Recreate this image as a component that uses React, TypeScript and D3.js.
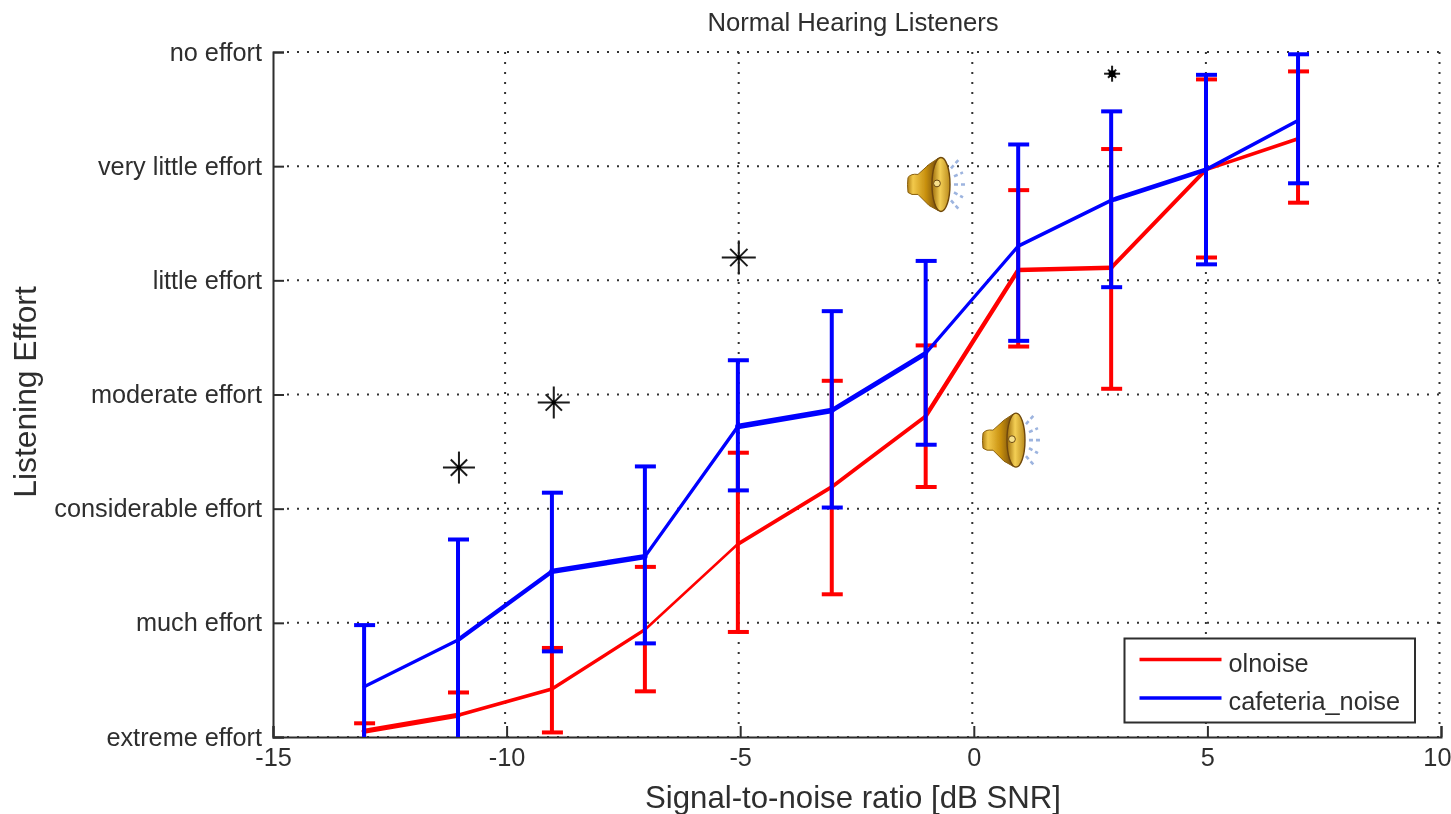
import { useEffect, useRef } from 'react'
import * as d3 from 'd3'

const WIDTH = 1451
const HEIGHT = 814

const EFFORT_LABELS = ['extreme effort', 'much effort', 'considerable effort', 'moderate effort', 'little effort', 'very little effort', 'no effort']
const X_TICKS = [-15, -10, -5, 0, 5, 10]

// SNR as plotted
const SNR = [-13.05, -11.04, -9.03, -7.04, -5.05, -3.04, -1.03, 0.95, 2.94, 4.97, 6.94]

const OL_MEAN = [0.05, 0.19, 0.42, 0.94, 1.69, 2.19, 2.81, 4.09, 4.11, 4.97, 5.24]
const OL_UPPER = [0.12, 0.39, 0.78, 1.49, 2.49, 3.12, 3.43, 4.79, 5.15, 5.76, 5.83]
const OL_LOWER = [-0.2, -0.2, 0.04, 0.4, 0.92, 1.25, 2.19, 3.42, 3.05, 4.2, 4.68]

const CAF_MEAN = [0.44, 0.85, 1.45, 1.58, 2.72, 2.86, 3.36, 4.3, 4.7, 4.97, 5.4]
const CAF_UPPER = [0.98, 1.73, 2.14, 2.37, 3.3, 3.73, 4.17, 5.19, 5.48, 5.8, 5.98]
const CAF_LOWER = [-0.2, -0.2, 0.75, 0.82, 2.16, 2.01, 2.56, 3.47, 3.94, 4.14, 4.85]

// the scaled-up original draws each mean segment at its own weight
const OL_WEIGHT = [5, 3.6, 3.4, 2.6, 3.8, 3.8, 4.4, 4.6, 4, 3.6]
const CAF_WEIGHT = [3.2, 4.2, 5.4, 3.4, 5.4, 4.8, 3.2, 3.6, 4.6, 3.6]

// significance markers: snr, effort, arm length in px
const STARS = [
  { snr: -11.02, effort: 2.36, r: 16 },
  { snr: -8.99, effort: 2.93, r: 16 },
  { snr: -5.03, effort: 4.2, r: 17 },
  { snr: 2.96, effort: 5.81, r: 8 },
]
const SPEAKERS = [
  { snr: -0.895, effort: 4.84 },
  { snr: 0.71, effort: 2.6 },
]

const RED = '#ff0000'
const BLUE = '#0000ff'
const INK = '#2e2e2e'
const FONT = '"Liberation Sans", Arial, sans-serif'

export default function App() {
  const ref = useRef<SVGSVGElement>(null)

  useEffect(() => {
    const root = d3.select(ref.current)
    root.selectAll('*').remove()

    const x = d3.scaleLinear().domain([-15, 10]).range([273, 1441])
    const y = d3.scaleLinear().domain([0, 6]).range([737, 52])

    const defs = root.append('defs')
    const soft = defs.append('filter').attr('id', 'soft')
      .attr('filterUnits', 'userSpaceOnUse').attr('x', 0).attr('y', 0).attr('width', WIDTH).attr('height', HEIGHT)
    soft.append('feGaussianBlur').attr('stdDeviation', 0.5)
    const brass = defs.append('linearGradient').attr('id', 'brass').attr('x1', 0).attr('x2', 1).attr('y1', 0).attr('y2', 0)
    brass.append('stop').attr('offset', '0%').attr('stop-color', '#b07f14')
    brass.append('stop').attr('offset', '18%').attr('stop-color', '#f2c94c')
    brass.append('stop').attr('offset', '60%').attr('stop-color', '#c8900f')
    brass.append('stop').attr('offset', '100%').attr('stop-color', '#6e4708')
    const face = defs.append('linearGradient').attr('id', 'face').attr('x1', 0).attr('x2', 1).attr('y1', 0).attr('y2', 0)
    face.append('stop').attr('offset', '0%').attr('stop-color', '#9c6c0c')
    face.append('stop').attr('offset', '45%').attr('stop-color', '#f4cf55')
    face.append('stop').attr('offset', '100%').attr('stop-color', '#b98a1c')
    const clip = defs.append('clipPath').attr('id', 'plot')
    clip.append('rect').attr('x', 273).attr('y', 50).attr('width', 1168).attr('height', 687)

    const svg = root.append('g').attr('filter', 'url(#soft)')

    // grid
    const grid = svg.append('g').attr('stroke', '#333').attr('stroke-width', 2).attr('stroke-dasharray', '2 8')
    grid.selectAll('.gy').data(d3.range(0, 7)).join('line')
      .attr('x1', 287).attr('x2', 1441)
      .attr('y1', d => y(d)).attr('y2', d => y(d))
    grid.selectAll('.gx').data(X_TICKS.slice(1)).join('line')
      .attr('x1', d => x(d) - 1.5).attr('x2', d => x(d) - 1.5)
      .attr('y1', 52).attr('y2', 725)

    // axes
    const axisLeft = svg.append('g').attr('transform', 'translate(273,0)')
      .call(d3.axisLeft(y).tickValues(d3.range(0, 7)).tickSize(-11).tickPadding(11).tickFormat(d => EFFORT_LABELS[+d]))
    const axisBottom = svg.append('g').attr('transform', 'translate(0,737)')
      .call(d3.axisBottom(x).tickValues(X_TICKS).tickSize(-11).tickPadding(11).tickFormat(d => String(d)))
    for (const a of [axisLeft, axisBottom]) {
      a.selectAll('path,line').attr('stroke', INK).attr('stroke-width', 2)
      a.selectAll('text').attr('fill', INK).attr('font-family', FONT).attr('font-size', 25.3)
    }
    // keep the last tick label inside the picture
    axisBottom.selectAll<SVGTextElement, number>('text').filter(d => d === 10)
      .attr('text-anchor', 'end').attr('x', 10)

    // series
    const line = d3.line<[number, number]>().x(d => x(d[0])).y(d => y(d[1]))
    const plot = svg.append('g').attr('clip-path', 'url(#plot)').attr('fill', 'none')
    const series = [
      { color: RED, mean: OL_MEAN, upper: OL_UPPER, lower: OL_LOWER, weight: OL_WEIGHT },
      { color: BLUE, mean: CAF_MEAN, upper: CAF_UPPER, lower: CAF_LOWER, weight: CAF_WEIGHT },
    ]
    series.forEach(s => {
      const g = plot.append('g').attr('stroke', s.color).attr('stroke-width', 4)
      const points = SNR.map((d, i) => [d, s.mean[i]] as [number, number])
      g.append('g').selectAll('path').data(d3.pairs(points)).join('path')
        .attr('d', d => line(d))
        .attr('stroke-width', (_, i) => s.weight[i])
        .attr('stroke-linecap', 'round')
      g.append('g').selectAll('line').data(SNR).join('line')
        .attr('x1', d => x(d)).attr('x2', d => x(d))
        .attr('y1', (_, i) => y(s.upper[i])).attr('y2', (_, i) => y(s.lower[i]))
      for (const edge of [s.upper, s.lower]) {
        g.append('g').selectAll('line').data(SNR).join('line')
          .attr('x1', d => x(d) - 10).attr('x2', d => x(d) + 11)
          .attr('y1', (_, i) => y(edge[i])).attr('y2', (_, i) => y(edge[i]))
      }
    })

    // stars
    const stars = svg.append('g').attr('stroke', '#1a1a1a').attr('stroke-width', 2)
    STARS.forEach(s => {
      const g = stars.append('g').attr('transform', `translate(${x(s.snr)},${y(s.effort)})`)
      d3.range(4).forEach(k => {
        const a = (k * Math.PI) / 4
        const arm = k % 2 ? s.r * 0.72 : s.r
        g.append('line')
          .attr('x1', -arm * Math.cos(a)).attr('x2', arm * Math.cos(a))
          .attr('y1', -arm * Math.sin(a)).attr('y2', arm * Math.sin(a))
      })
      g.append('circle').attr('r', s.r < 10 ? 3.5 : 2.2).attr('fill', '#000').attr('stroke', 'none')
    })

    // speaker icons
    SPEAKERS.forEach(s => {
      const g = svg.append('g').attr('transform', `translate(${x(s.snr)},${y(s.effort)})`)
      g.append('path')
        .attr('d', 'M-24,-7 Q-25,0 -24,8 Q-21,11 -14,10 L-3,21 L6,26 L6,-26 L-3,-20 L-14,-10 Q-21,-11 -24,-7 Z')
        .attr('fill', 'url(#brass)').attr('stroke', '#8a6010').attr('stroke-width', 1)
      g.append('ellipse').attr('cx', 9).attr('cy', 0).attr('rx', 9).attr('ry', 27)
        .attr('fill', 'url(#face)').attr('stroke', '#6e4708').attr('stroke-width', 1.4)
      g.append('circle').attr('cx', 5).attr('cy', -1).attr('r', 3.4).attr('fill', '#f6e08c').attr('stroke', '#6a4710').attr('stroke-width', 1)
      const rays = g.append('g').attr('stroke', '#9db4df').attr('stroke-width', 2.6).attr('stroke-dasharray', '4 3')
      ;[[19, -16, 27, -25], [22, -8, 31, -12], [22, 0, 33, 0], [22, 8, 31, 13], [19, 16, 27, 25]].forEach(r => {
        rays.append('line').attr('x1', r[0]).attr('y1', r[1]).attr('x2', r[2]).attr('y2', r[3])
      })
    })

    // legend
    const legend = svg.append('g').attr('transform', 'translate(1124.5,638.5)')
    legend.append('rect').attr('width', 290.5).attr('height', 84).attr('fill', '#fff').attr('stroke', INK).attr('stroke-width', 2)
    const entries = [{ name: 'olnoise', color: RED }, { name: 'cafeteria_noise', color: BLUE }]
    entries.forEach((e, i) => {
      const ly = 21 + i * 38.5
      legend.append('line').attr('x1', 15).attr('x2', 97).attr('y1', ly).attr('y2', ly).attr('stroke', e.color).attr('stroke-width', 3.6)
      legend.append('text').attr('x', 104).attr('y', ly + 12).attr('font-family', FONT).attr('font-size', 25.3).attr('fill', INK).text(e.name)
    })

    // titles
    const label = (tx: number, ty: number, size: number, text: string, rotate = 0) =>
      svg.append('text')
        .attr('transform', `translate(${tx},${ty}) rotate(${rotate})`)
        .attr('text-anchor', 'middle').attr('font-family', FONT).attr('font-size', size).attr('fill', INK).text(text)
    label(853, 31, 25.7, 'Normal Hearing Listeners')
    label(853, 808, 31.2, 'Signal-to-noise ratio [dB SNR]')
    label(36, 392, 31.8, 'Listening Effort', -90)
  }, [])

  return (
    <svg ref={ref} width={WIDTH} height={HEIGHT} style={{ position: 'absolute', left: 0, top: 0, background: '#fff' }} />
  )
}
